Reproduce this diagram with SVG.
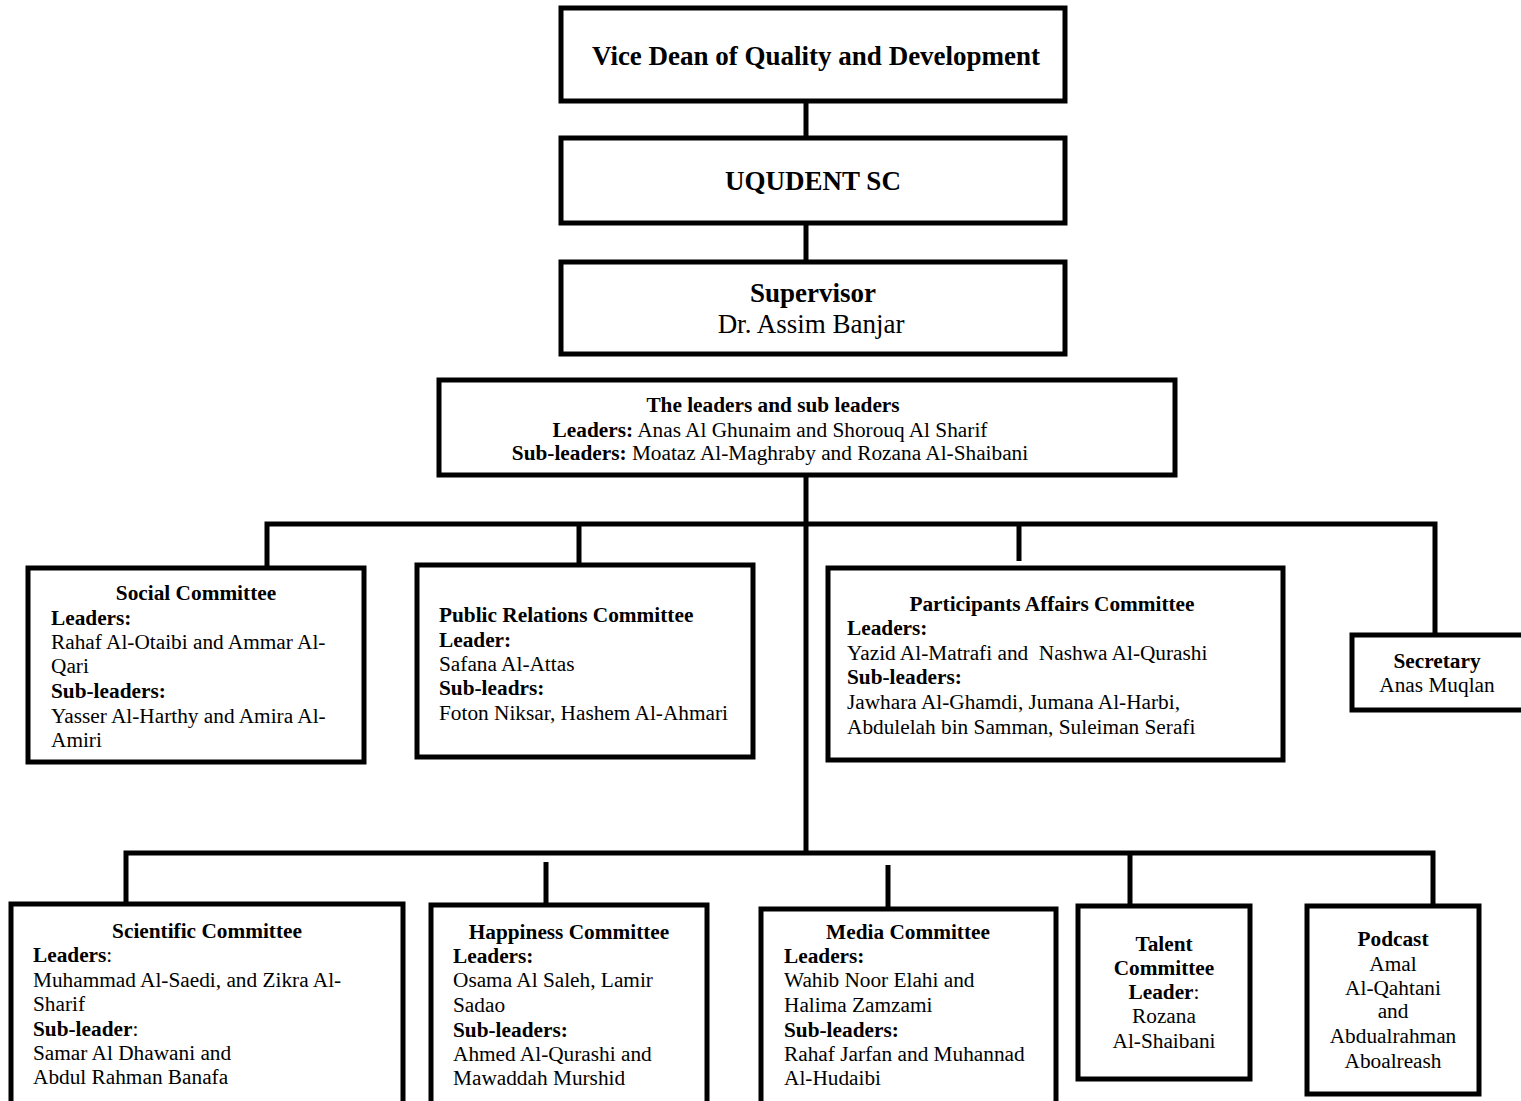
<svg xmlns="http://www.w3.org/2000/svg" width="1521" height="1101" viewBox="0 0 1521 1101">
<style>
.box{fill:#fff;stroke:#000;stroke-width:5}
.ln{stroke:#000;stroke-width:5;fill:none}
text{font-family:"Liberation Serif","Times New Roman",serif;fill:#000}
.big{font-size:27px}
.t{font-size:21.3px}
.b{font-weight:bold}
.c{text-anchor:middle}
</style>
<rect width="1521" height="1101" fill="#fff"/>
<g id="connectors">
<line class="ln" x1="806" y1="103" x2="806" y2="138"/>
<line class="ln" x1="806" y1="223" x2="806" y2="262"/>
<line class="ln" x1="806" y1="475" x2="806" y2="853"/>
<polyline class="ln" points="267,568 267,524 1435,524 1435,635"/>
<line class="ln" x1="579" y1="524" x2="579" y2="565"/>
<line class="ln" x1="1019" y1="524" x2="1019" y2="561"/>
<polyline class="ln" points="126,904 126,853 1433,853 1433,906"/>
<line class="ln" x1="546" y1="862" x2="546" y2="905"/>
<line class="ln" x1="888" y1="865" x2="888" y2="909"/>
<line class="ln" x1="1130" y1="853" x2="1130" y2="906"/>
</g>
<g id="vice-dean">
<rect class="box" x="561" y="8" width="504" height="93"/>
<text class="big b c" x="816" y="65">Vice Dean of Quality and Development</text>
</g>
<g id="uqudent">
<rect class="box" x="561" y="138" width="504" height="85"/>
<text class="big b c" x="813" y="190">UQUDENT SC</text>
</g>
<g id="supervisor">
<rect class="box" x="561" y="262" width="504" height="92"/>
<text class="big b c" x="813" y="302">Supervisor</text>
<text class="big c" x="811" y="333">Dr. Assim Banjar</text>
</g>
<g id="leaders">
<rect class="box" x="439" y="380" width="736" height="95"/>
<text class="t c" x="773" y="412"><tspan class="b">The leaders and sub leaders</tspan></text>
<text class="t c" x="770" y="437"><tspan class="b">Leaders:</tspan> Anas Al Ghunaim and Shorouq Al Sharif</text>
<text class="t c" x="770" y="460"><tspan class="b">Sub-leaders:</tspan> Moataz Al-Maghraby and Rozana Al-Shaibani</text>
</g>
<g id="social">
<rect class="box" x="28" y="568" width="336" height="194"/>
<text class="t b c" x="196" y="600">Social Committee</text>
<text class="t b" x="51" y="625">Leaders:</text>
<text class="t" x="51" y="649">Rahaf Al-Otaibi and Ammar Al-</text>
<text class="t" x="51" y="673">Qari</text>
<text class="t b" x="51" y="698">Sub-leaders:</text>
<text class="t" x="51" y="723">Yasser Al-Harthy and Amira Al-</text>
<text class="t" x="51" y="747">Amiri</text>
</g>
<g id="public-relations">
<rect class="box" x="417" y="565" width="336" height="192"/>
<text class="t b" x="439" y="622">Public Relations Committee</text>
<text class="t b" x="439" y="647">Leader:</text>
<text class="t" x="439" y="671">Safana Al-Attas</text>
<text class="t b" x="439" y="695">Sub-leadrs:</text>
<text class="t" x="439" y="720">Foton Niksar, Hashem Al-Ahmari</text>
</g>
<g id="participants">
<rect class="box" x="828" y="568" width="455" height="192"/>
<text class="t b c" x="1052" y="611">Participants Affairs Committee</text>
<text class="t b" x="847" y="635">Leaders:</text>
<text class="t" x="847" y="660" xml:space="preserve">Yazid Al-Matrafi and  Nashwa Al-Qurashi</text>
<text class="t b" x="847" y="684">Sub-leaders:</text>
<text class="t" x="847" y="709">Jawhara Al-Ghamdi, Jumana Al-Harbi,</text>
<text class="t" x="847" y="734">Abdulelah bin Samman, Suleiman Serafi</text>
</g>
<g id="secretary">
<rect class="box" x="1352" y="635" width="180" height="75"/>
<text class="t b c" x="1437" y="668">Secretary</text>
<text class="t c" x="1437" y="692">Anas Muqlan</text>
</g>
<g id="scientific">
<rect class="box" x="11" y="904" width="392" height="220"/>
<text class="t b c" x="207" y="938">Scientific Committee</text>
<text class="t" x="33" y="962"><tspan class="b">Leaders</tspan>:</text>
<text class="t" x="33" y="987">Muhammad Al-Saedi, and Zikra Al-</text>
<text class="t" x="33" y="1011">Sharif</text>
<text class="t" x="33" y="1036"><tspan class="b">Sub-leader</tspan>:</text>
<text class="t" x="33" y="1060">Samar Al Dhawani and</text>
<text class="t" x="33" y="1084">Abdul Rahman Banafa</text>
</g>
<g id="happiness">
<rect class="box" x="431" y="905" width="276" height="220"/>
<text class="t b c" x="569" y="939">Happiness Committee</text>
<text class="t b" x="453" y="963">Leaders:</text>
<text class="t" x="453" y="987">Osama Al Saleh, Lamir</text>
<text class="t" x="453" y="1012">Sadao</text>
<text class="t b" x="453" y="1037">Sub-leaders:</text>
<text class="t" x="453" y="1061">Ahmed Al-Qurashi and</text>
<text class="t" x="453" y="1085">Mawaddah Murshid</text>
</g>
<g id="media">
<rect class="box" x="761" y="909" width="295" height="220"/>
<text class="t b c" x="908" y="939">Media Committee</text>
<text class="t b" x="784" y="963">Leaders:</text>
<text class="t" x="784" y="987">Wahib Noor Elahi and</text>
<text class="t" x="784" y="1012">Halima Zamzami</text>
<text class="t b" x="784" y="1037">Sub-leaders:</text>
<text class="t" x="784" y="1061">Rahaf Jarfan and Muhannad</text>
<text class="t" x="784" y="1085">Al-Hudaibi</text>
</g>
<g id="talent">
<rect class="box" x="1078" y="906" width="172" height="173"/>
<text class="t b c" x="1164" y="951">Talent</text>
<text class="t b c" x="1164" y="975">Committee</text>
<text class="t c" x="1164" y="999"><tspan class="b">Leader</tspan>:</text>
<text class="t c" x="1164" y="1023">Rozana</text>
<text class="t c" x="1164" y="1048">Al-Shaibani</text>
</g>
<g id="podcast">
<rect class="box" x="1307" y="906" width="172" height="188"/>
<text class="t b c" x="1393" y="946">Podcast</text>
<text class="t c" x="1393" y="971">Amal</text>
<text class="t c" x="1393" y="995">Al-Qahtani</text>
<text class="t c" x="1393" y="1018">and</text>
<text class="t c" x="1393" y="1043">Abdualrahman</text>
<text class="t c" x="1393" y="1068">Aboalreash</text>
</g>
</svg>
